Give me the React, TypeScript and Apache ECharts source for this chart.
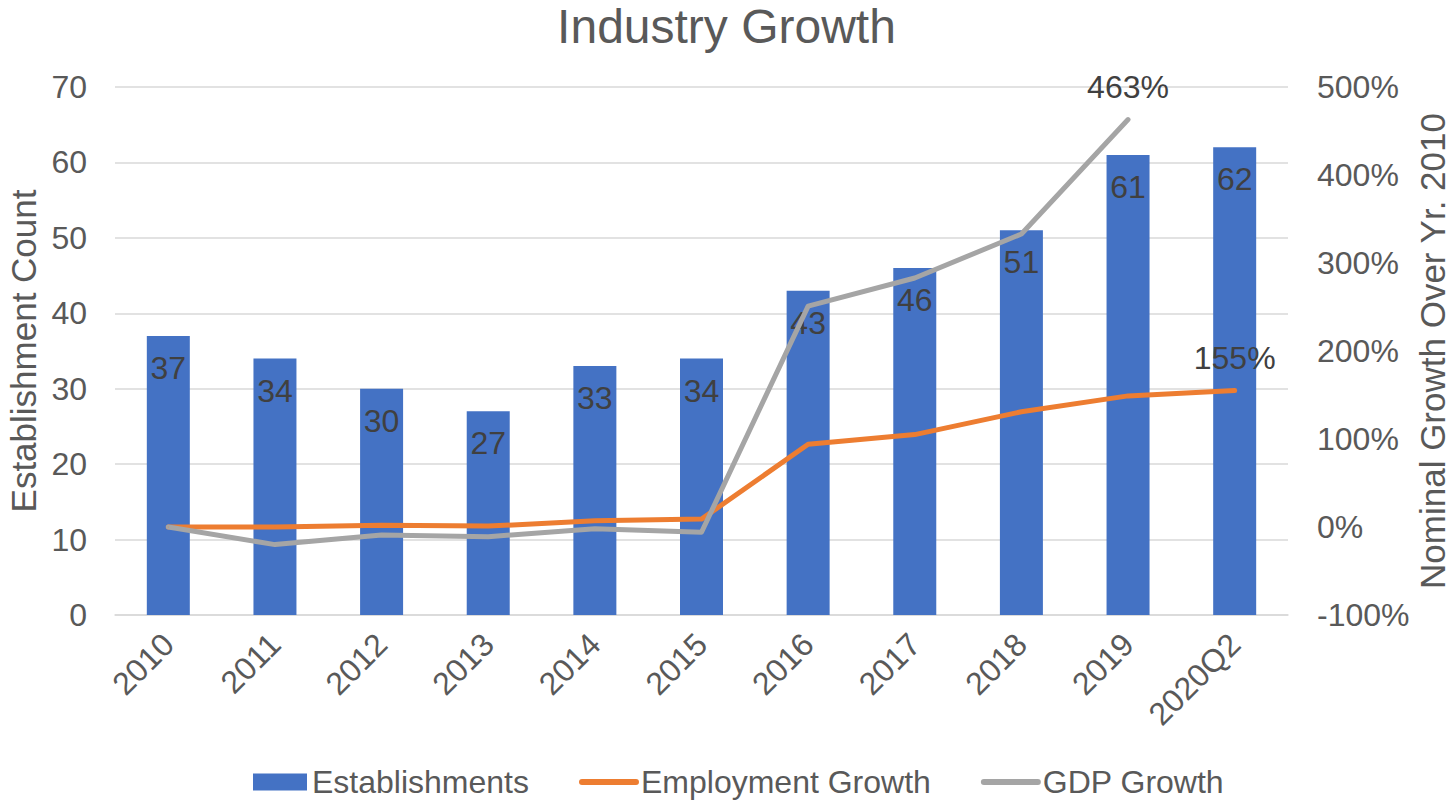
import React, { useEffect, useRef } from "react";
import * as echarts from "echarts";

const categories = ["2010", "2011", "2012", "2013", "2014", "2015", "2016", "2017", "2018", "2019", "2020Q2"];
const establishments = [37, 34, 30, 27, 33, 34, 43, 46, 51, 61, 62];
const employmentGrowth = [0, 0, 2, 1, 7, 9, 94, 105, 131, 149, 155];
const gdpGrowth: (number | null)[] = [0, -20, -9, -11, -2, -6, 251, 283, 333, 463, null];
const employmentLabelIndex = 10;
const gdpLabelIndex = 9;

const FONT = "Liberation Sans, Arial, sans-serif";
const TXT = "#595959";
const LBL = "#404040";

export default function App() {
  const ref = useRef<HTMLDivElement>(null);
  useEffect(() => {
    document.body.style.margin = "0";
    const chart = echarts.init(ref.current!, null, { renderer: "svg" });
    const lineLabel = (idx: number) => ({
      show: true,
      position: "top",
      distance: 16,
      fontSize: 32,
      color: LBL,
      fontFamily: FONT,
      formatter: (p: any) => (p.dataIndex === idx ? p.value + "%" : ""),
    });
    chart.setOption({
      animation: false,
      textStyle: { fontFamily: FONT },
      title: {
        text: "Industry Growth",
        left: "center",
        top: 2,
        padding: 0,
        textStyle: { fontSize: 48, fontWeight: "normal", color: TXT, fontFamily: FONT },
      },
      legend: {
        top: 761,
        left: 248,
        itemGap: 50,
        itemWidth: 54,
        itemHeight: 17,
        textStyle: { fontSize: 32, color: TXT, fontFamily: FONT },
        data: [
          { name: "Establishments", icon: "rect" },
          { name: "Employment Growth", itemStyle: { opacity: 0 }, lineStyle: { width: 6, cap: "round" } },
          { name: "GDP Growth", itemStyle: { opacity: 0 }, lineStyle: { width: 6, cap: "round" } },
        ],
      },
      grid: { left: 115, right: 165, top: 87, bottom: 189, containLabel: false, outerBoundsMode: "none" },
      xAxis: {
        type: "category",
        data: categories,
        axisLine: { lineStyle: { color: "#D9D9D9", width: 1.5 } },
        axisTick: { show: false },
        axisLabel: { rotate: 45, fontSize: 32, color: TXT, fontFamily: FONT, margin: 24 },
      },
      yAxis: [
        {
          type: "value",
          min: 0,
          max: 70,
          interval: 10,
          name: "Establishment Count",
          nameLocation: "middle",
          nameGap: 72,
          nameTextStyle: { fontSize: 35, color: TXT, fontFamily: FONT },
          axisLabel: { fontSize: 32, color: TXT, fontFamily: FONT, margin: 28 },
          splitLine: { lineStyle: { color: "#D9D9D9", width: 1.5 } },
          axisLine: { show: false },
          axisTick: { show: false },
        },
        {
          type: "value",
          min: -100,
          max: 500,
          interval: 100,
          name: "Nominal Growth Over Yr. 2010",
          nameLocation: "middle",
          nameGap: 127,
          nameRotate: 90,
          nameMoveOverlap: false,
          nameTextStyle: { fontSize: 35, lineHeight: 35, color: TXT, fontFamily: FONT },
          axisLabel: { fontSize: 32, color: TXT, fontFamily: FONT, margin: 29, formatter: "{value}%" },
          splitLine: { show: false },
          axisLine: { show: false },
          axisTick: { show: false },
        },
      ],
      series: [
        {
          name: "Establishments",
          type: "bar",
          data: establishments,
          barWidth: 43,
          itemStyle: { color: "#4472C4" },
          label: {
            show: true,
            position: "insideTop",
            distance: 16,
            fontSize: 32,
            color: LBL,
            fontFamily: FONT,
          },
        },
        {
          name: "Employment Growth",
          type: "line",
          yAxisIndex: 1,
          data: employmentGrowth,
          symbol: "circle",
          symbolSize: 1,
          showSymbol: true,
          lineStyle: { color: "#ED7D31", width: 5, cap: "round", join: "round" },
          itemStyle: { color: "#ED7D31" },
          label: lineLabel(employmentLabelIndex),
        },
        {
          name: "GDP Growth",
          type: "line",
          yAxisIndex: 1,
          data: gdpGrowth,
          symbol: "circle",
          symbolSize: 1,
          showSymbol: true,
          lineStyle: { color: "#A5A5A5", width: 5, cap: "round", join: "round" },
          itemStyle: { color: "#A5A5A5" },
          label: lineLabel(gdpLabelIndex),
        },
      ],
    });
    return () => chart.dispose();
  }, []);
  return <div ref={ref} style={{ width: 1453, height: 804 }} />;
}
